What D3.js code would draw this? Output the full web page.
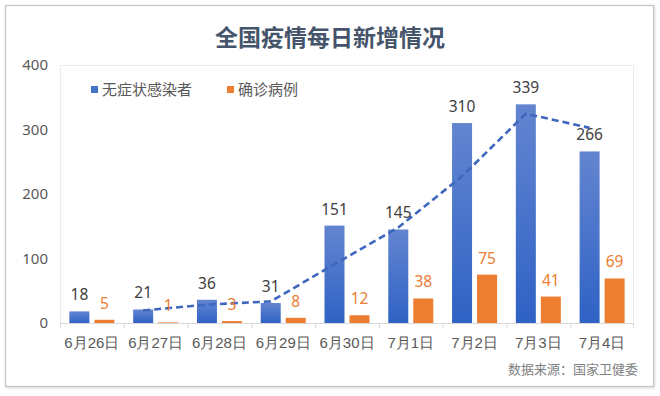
<!DOCTYPE html>
<html><head><meta charset="utf-8">
<script src="https://cdn.jsdelivr.net/npm/d3@7"></script>
<style>
html,body{margin:0;padding:0;background:#fff;}
svg{display:block;font-family:"Noto Sans CJK SC","Noto Sans",sans-serif;}
</style></head>
<body>
<svg id="c" width="660" height="396"></svg>
<script>
const categories = ["6月26日","6月27日","6月28日","6月29日","6月30日","7月1日","7月2日","7月3日","7月4日"];
const asymptomatic = [18,21,36,31,151,145,310,339,266];
const confirmed = [5,1,3,8,12,38,75,41,69];
const trend = [null,19.5,28.5,33.5,91,148,227.5,324.5,302.5];
const yTicks = [0,100,200,300,400];
const seriesNames = ["无症状感染者","确诊病例"];
const title = "全国疫情每日新增情况";
const source = "数据来源：国家卫健委";

const svg = d3.select("#c");
const blue = "#4472C4", orange = "#ED7D31";

const defs = svg.append("defs");
const g = defs.append("linearGradient").attr("id","bg").attr("x1",0).attr("y1",0).attr("x2",0).attr("y2",1);
g.append("stop").attr("offset","0%").attr("stop-color","#6385D0");
g.append("stop").attr("offset","100%").attr("stop-color","#2F62C5");
const f = defs.append("filter").attr("id","sh").attr("x","-5%").attr("y","-5%").attr("width","110%").attr("height","110%");
f.append("feDropShadow").attr("dx",1).attr("dy",1).attr("stdDeviation",1.2).attr("flood-color","#000").attr("flood-opacity",0.18);

// outer box
svg.append("rect").attr("x",5.5).attr("y",5.5).attr("width",648).attr("height",381)
  .attr("fill","#fff").attr("stroke","#c4c4c4").attr("stroke-width",1.2).attr("filter","url(#sh)");

const x = d3.scaleBand().domain(categories).range([60,634]);
const y = d3.scaleLinear().domain([0,400]).range([323,65]);

// plot area border
svg.append("rect").attr("x",60.5).attr("y",y(400)+0.5).attr("width",573).attr("height",y(0)-y(400))
  .attr("fill","none").attr("stroke","#ececec").attr("stroke-width",1);

// title
svg.append("text").attr("x",330).attr("y",46).attr("text-anchor","middle")
  .attr("font-size",23).attr("font-weight","bold").attr("fill","#44546A").text(title);

// y axis labels
const ya = svg.append("g").attr("transform","translate(48,0)")
  .call(d3.axisLeft(y).tickValues(yTicks).tickSize(0).tickPadding(0));
ya.select(".domain").remove();
ya.selectAll("text").attr("font-size",15).attr("fill","#595959").attr("font-family","'Noto Sans','Open Sans',sans-serif");

// x axis
const xa = svg.append("g").attr("transform",`translate(0,${y(0)})`)
  .call(d3.axisBottom(x).tickSize(0).tickPadding(14));
xa.select(".domain").attr("stroke","#d9d9d9");
xa.selectAll("text").attr("font-size",15).attr("fill","#595959");
// boundary ticks
svg.append("g").selectAll("line").data(categories.concat(["__end"])).join("line")
  .attr("x1",(d,i)=> i<categories.length ? x(d)+0.5 : x.range()[1]-0.5)
  .attr("x2",(d,i)=> i<categories.length ? x(d)+0.5 : x.range()[1]-0.5)
  .attr("y1",y(0)).attr("y2",y(0)+5).attr("stroke","#d9d9d9");

const bw = 20, gap = 5;
const cx = d => x(d) + x.bandwidth()/2;

// bars
svg.append("g").selectAll("rect").data(asymptomatic).join("rect")
  .attr("x",(d,i)=>cx(categories[i]) - gap/2 - bw).attr("width",bw)
  .attr("y",d=>y(d)).attr("height",d=>y(0)-y(d)).attr("fill","url(#bg)");
svg.append("g").selectAll("rect").data(confirmed).join("rect")
  .attr("x",(d,i)=>cx(categories[i]) + gap/2).attr("width",bw)
  .attr("y",d=>y(d)).attr("height",d=>y(0)-y(d)).attr("fill",orange);

// trend line
const pts = trend.map((v,i)=>({v, c:categories[i]})).filter(p=>p.v!=null);
svg.append("path").datum(pts)
  .attr("d", d3.line().x(p=>cx(p.c) - gap/2 - bw/2).y(p=>y(p.v)))
  .attr("fill","none").attr("stroke","#3E67BE").attr("stroke-width",2.6).attr("stroke-dasharray","7,4");

// labels
svg.append("g").selectAll("text").data(asymptomatic).join("text")
  .attr("x",(d,i)=>cx(categories[i]) - gap/2 - bw/2)
  .attr("y",d=>y(d)-11).attr("text-anchor","middle")
  .attr("font-size",15.5).attr("fill","#404040").attr("font-family","'Noto Sans','Open Sans',sans-serif").text(d=>d);
svg.append("g").selectAll("text").data(confirmed).join("text")
  .attr("x",(d,i)=>cx(categories[i]) + gap/2 + bw/2)
  .attr("y",d=>y(d)-11).attr("text-anchor","middle")
  .attr("font-size",15.5).attr("fill",orange).attr("font-family","'Noto Sans','Open Sans',sans-serif").text(d=>d);

// legend
const leg = [{n:seriesNames[0],c:blue,x:91},{n:seriesNames[1],c:orange,x:227}];
const lg = svg.append("g").selectAll("g").data(leg).join("g").attr("transform",d=>`translate(${d.x},0)`);
lg.append("rect").attr("x",0).attr("y",86).attr("width",7).attr("height",7).attr("fill",d=>d.c);
lg.append("text").attr("x",11).attr("y",95).attr("font-size",15).attr("fill","#595959").text(d=>d.n);

// source
svg.append("text").attr("x",638).attr("y",374).attr("text-anchor","end")
  .attr("font-size",13).attr("fill","#7f7f7f").text(source);
</script>
</body></html>
